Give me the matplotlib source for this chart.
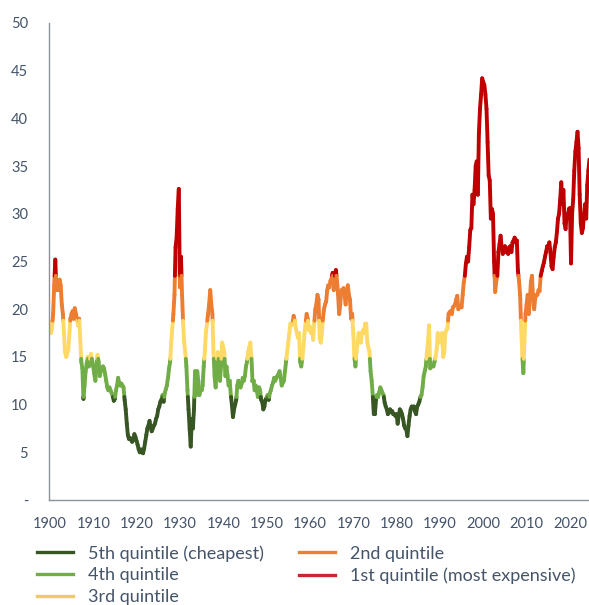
import numpy as np
import matplotlib
matplotlib.use("Agg")
import matplotlib.pyplot as plt
from matplotlib.collections import LineCollection
from matplotlib.lines import Line2D

plt.rcParams['font.family'] = ['Lato', 'DejaVu Sans']

# Shiller CAPE, quarterly readings (Jan, Apr, Jul, Oct)
cape_by_year = {
    1900: [18.7, 17.5, 18.0, 19.5], 1901: [22.5, 25.2, 22.0, 23.0],
    1902: [22.0, 23.1, 22.5, 20.5], 1903: [19.5, 17.5, 15.5, 15.0],
    1904: [15.3, 15.8, 17.5, 19.0], 1905: [19.5, 19.8, 19.0, 20.1],
    1906: [19.5, 19.0, 18.3, 19.0], 1907: [17.0, 14.5, 13.8, 10.6],
    1908: [12.0, 13.5, 14.3, 15.0], 1909: [14.0, 14.8, 15.3, 14.6],
    1910: [14.0, 13.2, 12.5, 14.2], 1911: [15.2, 14.5, 13.0, 13.5],
    1912: [13.6, 14.0, 13.8, 13.2], 1913: [12.5, 11.8, 11.5, 11.8],
    1914: [11.5, 11.2, 10.9, 10.4], 1915: [10.6, 11.5, 12.0, 12.8],
    1916: [12.3, 12.0, 12.2, 12.0], 1917: [11.8, 10.5, 9.5, 8.0],
    1918: [6.8, 6.4, 6.5, 6.3], 1919: [6.1, 6.3, 6.9, 6.6],
    1920: [6.2, 5.8, 5.3, 5.0], 1921: [5.3, 5.0, 4.9, 5.4],
    1922: [6.1, 6.8, 7.5, 7.8], 1923: [8.3, 7.6, 7.2, 7.5],
    1924: [7.8, 8.0, 8.5, 8.8], 1925: [9.5, 9.8, 10.3, 10.5],
    1926: [11.0, 10.3, 11.2, 11.6], 1927: [12.0, 12.8, 13.8, 14.5],
    1928: [16.5, 18.0, 19.5, 21.5], 1929: [26.5, 27.5, 30.5, 32.6],
    1930: [22.3, 25.5, 21.5, 18.5], 1931: [16.5, 15.5, 14.0, 11.5],
    1932: [9.5, 7.5, 5.6, 8.5], 1933: [7.5, 9.5, 13.5, 11.0],
    1934: [13.5, 12.5, 11.0, 11.5], 1935: [11.5, 12.0, 14.0, 15.5],
    1936: [17.5, 18.5, 19.5, 20.5], 1937: [22.0, 20.5, 19.5, 15.5],
    1938: [13.0, 11.8, 14.5, 15.5], 1939: [14.5, 12.5, 14.0, 16.5],
    1940: [16.0, 15.5, 13.0, 14.0], 1941: [13.0, 12.0, 12.5, 11.0],
    1942: [10.0, 8.7, 9.5, 10.0], 1943: [10.5, 12.0, 12.5, 12.0],
    1944: [11.8, 12.2, 12.8, 12.5], 1945: [13.0, 14.0, 14.5, 15.5],
    1946: [16.0, 16.5, 15.0, 12.5], 1947: [12.5, 11.5, 12.0, 11.5],
    1948: [10.8, 11.8, 11.5, 10.5], 1949: [10.3, 9.5, 9.8, 10.5],
    1950: [10.7, 11.0, 10.5, 11.2], 1951: [11.5, 12.0, 12.3, 12.8],
    1952: [12.5, 12.8, 13.0, 13.2], 1953: [13.5, 12.8, 12.0, 12.3],
    1954: [12.5, 13.5, 14.5, 15.5], 1955: [16.5, 17.5, 18.5, 18.3],
    1956: [18.5, 19.3, 18.8, 18.0], 1957: [17.5, 17.0, 17.5, 14.5],
    1958: [14.0, 14.8, 16.0, 17.5], 1959: [18.5, 19.5, 19.0, 17.8],
    1960: [18.2, 17.5, 17.8, 16.8], 1961: [18.5, 20.0, 20.5, 21.5],
    1962: [21.0, 17.0, 16.5, 17.5], 1963: [19.0, 20.0, 20.5, 20.8],
    1964: [22.0, 22.5, 22.3, 23.0], 1965: [23.2, 23.8, 22.0, 23.5],
    1966: [24.1, 23.0, 21.5, 19.5], 1967: [20.5, 22.0, 21.8, 22.2],
    1968: [21.5, 20.5, 22.0, 22.5], 1969: [21.5, 21.0, 19.0, 19.5],
    1970: [17.5, 15.0, 14.0, 15.5], 1971: [16.5, 17.5, 16.8, 16.5],
    1972: [17.5, 17.8, 17.5, 18.5], 1973: [18.5, 16.5, 16.0, 15.5],
    1974: [13.5, 12.5, 11.0, 9.0], 1975: [9.0, 10.5, 11.0, 10.8],
    1976: [11.3, 11.8, 11.5, 11.2], 1977: [11.0, 10.2, 9.8, 9.5],
    1978: [9.0, 9.2, 9.5, 9.2], 1979: [9.3, 9.0, 9.0, 8.8],
    1980: [9.0, 8.0, 8.8, 9.5], 1981: [9.3, 9.0, 8.5, 7.8],
    1982: [7.5, 7.4, 6.7, 7.8], 1983: [8.8, 9.5, 9.8, 9.6],
    1984: [9.8, 9.3, 9.0, 9.8], 1985: [10.0, 10.3, 10.8, 11.0],
    1986: [11.8, 13.0, 13.5, 14.0], 1987: [15.5, 16.5, 18.3, 13.8],
    1988: [14.0, 14.2, 14.0, 14.5], 1989: [15.0, 15.8, 17.5, 17.0],
    1990: [16.5, 16.8, 17.5, 15.0], 1991: [15.5, 17.5, 17.8, 18.0],
    1992: [19.5, 19.7, 19.8, 19.5], 1993: [20.2, 20.3, 20.5, 21.0],
    1994: [21.4, 20.0, 20.3, 20.3], 1995: [20.2, 21.5, 22.8, 23.5],
    1996: [24.8, 25.5, 25.0, 26.5], 1997: [28.3, 28.5, 32.0, 31.0],
    1998: [32.5, 35.0, 35.5, 32.0], 1999: [38.5, 41.0, 42.5, 44.2],
    2000: [43.8, 43.5, 42.5, 41.0], 2001: [37.5, 34.0, 33.5, 29.5],
    2002: [30.5, 30.0, 25.0, 21.8], 2003: [22.9, 23.5, 26.0, 26.8],
    2004: [27.7, 26.5, 25.8, 26.3], 2005: [26.6, 26.0, 26.3, 25.8],
    2006: [26.5, 26.6, 26.0, 27.0], 2007: [27.2, 27.5, 27.0, 27.2],
    2008: [24.0, 23.0, 21.5, 18.0], 2009: [15.2, 13.3, 16.5, 19.5],
    2010: [20.5, 21.5, 19.5, 21.0], 2011: [22.9, 23.5, 21.0, 20.0],
    2012: [21.2, 21.5, 21.5, 22.0], 2013: [21.9, 23.5, 24.0, 24.5],
    2014: [24.9, 25.5, 26.0, 26.6], 2015: [26.5, 27.0, 26.0, 24.5],
    2016: [24.2, 25.5, 26.5, 27.0], 2017: [28.1, 29.5, 30.0, 31.5],
    2018: [33.3, 31.0, 32.5, 29.0], 2019: [28.4, 30.0, 29.5, 30.5],
    2020: [30.6, 24.8, 30.0, 31.5], 2021: [34.5, 36.5, 37.5, 38.6],
    2022: [36.9, 32.0, 29.0, 28.0], 2023: [28.5, 30.0, 31.0, 29.5],
    2024: [33.0, 34.5, 35.7],
}

quintile_breaks = [10.8, 14.8, 18.8, 23.5]
quintile_labels = ["5th quintile (cheapest)", "4th quintile", "3rd quintile",
                   "2nd quintile", "1st quintile (most expensive)"]
quintile_colors = ["#375623", "#70AD47", "#FFD966", "#ED7D31", "#C00000"]
legend_colors = ["#375623", "#70AD47", "#F2C96A", "#ED7D31", "#C8282D"]

years = []
values = []
for yr, qs in cape_by_year.items():
    for i, v in enumerate(qs):
        years.append(yr + i * 0.25)
        values.append(v)
years = np.array(years)
values = np.array(values)

# split segments at quintile breaks so each piece gets a single colour
segs, cols = [], []
for x0, y0, x1, y1 in zip(years[:-1], values[:-1], years[1:], values[1:]):
    pts = [(x0, y0)]
    lo, hi = min(y0, y1), max(y0, y1)
    cuts = [b for b in quintile_breaks if lo < b < hi]
    cuts = sorted(cuts, reverse=(y1 < y0))
    for b in cuts:
        t = (b - y0) / (y1 - y0)
        pts.append((x0 + t * (x1 - x0), b))
    pts.append((x1, y1))
    for p, q in zip(pts[:-1], pts[1:]):
        mid = 0.5 * (p[1] + q[1])
        k = int(np.searchsorted(quintile_breaks, mid))
        segs.append([p, q])
        cols.append(quintile_colors[k])

W, H = 589, 605
fig = plt.figure(figsize=(W / 100, H / 100), dpi=100)
ax = fig.add_axes([49 / W, (H - 500) / H, 1 - 49 / W, (500 - 23) / H])

lc = LineCollection(segs, colors=cols, linewidths=2.8, capstyle='round',
                    joinstyle='round')
ax.add_collection(lc)

ax.set_xlim(1899.8, 2024.4)
ax.set_ylim(0, 50)

text_color = "#44546A"
axis_color = "#8A929C"
yt = list(range(0, 51, 5))
ax.set_yticks(yt)
ax.set_yticklabels(["-" if v == 0 else str(v) for v in yt])
xt = list(range(1900, 2021, 10))
ax.set_xticks(xt)
ax.set_xticklabels([str(v) for v in xt])
ax.tick_params(axis='both', length=0, labelsize=10.5, colors=text_color)
ax.tick_params(axis='y', pad=15)
ax.tick_params(axis='x', pad=12)
for s in ['top', 'right']:
    ax.spines[s].set_visible(False)
for s in ['left', 'bottom']:
    ax.spines[s].set_color(axis_color)
    ax.spines[s].set_linewidth(1.0)

handles = [Line2D([], [], color=c, lw=2.4) for c in legend_colors]
leg = fig.legend(handles, quintile_labels, ncol=2, loc='upper left',
                 bbox_to_anchor=(37 / W, (H - 545) / H), frameon=False,
                 borderpad=0, borderaxespad=0, handlelength=2.0,
                 handletextpad=0.83, columnspacing=1.95, labelspacing=0.32,
                 fontsize=13)
for t in leg.get_texts():
    t.set_color(text_color)

fig.savefig("out.png", dpi=100)
